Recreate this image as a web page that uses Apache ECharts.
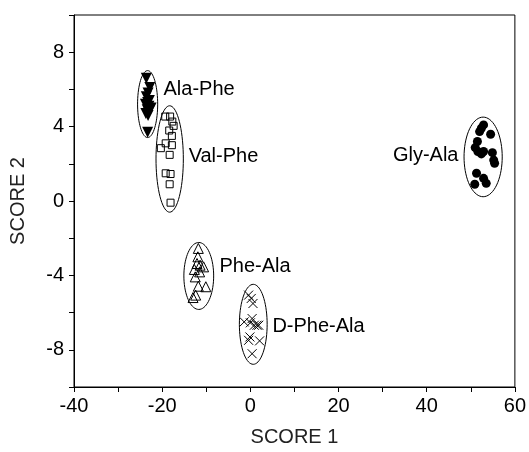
<!DOCTYPE html>
<html>
<head>
<meta charset="utf-8">
<script src="https://cdn.jsdelivr.net/npm/echarts@6/dist/echarts.min.js"></script>
<style>
  html, body { margin: 0; padding: 0; background: #fff; }
  #chart { width: 529px; height: 452px; }
</style>
</head>
<body>
<div id="chart"></div>
<script>
// 各组的得分点 (SCORE 1, SCORE 2)
var alaPhe = [[-23.6, 6.6], [-22.8, 6.1], [-23.2, 5.8], [-23.6, 5.6], [-22.9, 5.4], [-23.3, 5.3],
    [-23.8, 5.2], [-23.0, 5.1], [-22.5, 5.0], [-23.4, 4.9], [-22.8, 4.9], [-23.1, 4.8],
    [-23.7, 4.7], [-23.2, 4.6], [-23.3, 3.7]];
var valPhe = [[-19.3, 4.54], [-18.2, 4.54], [-17.7, 4.27], [-17.4, 4.04], [-18.4, 3.79], [-17.8, 3.5],
    [-19.2, 3.1], [-20.3, 2.84], [-17.8, 3.0], [-18.3, 2.48], [-19.2, 1.49], [-18.1, 1.45],
    [-18.3, 0.9], [-18.1, -0.09]];
var glyAla = [[52.4, 3.91], [52.9, 4.09], [52.0, 3.73], [54.5, 3.59], [51.5, 3.2], [51.0, 2.87],
    [51.6, 2.66], [52.4, 2.53], [52.9, 2.66], [54.9, 2.6], [55.4, 2.03], [55.2, 2.2],
    [51.3, 1.49], [52.9, 1.22], [53.5, 0.95], [50.9, 0.9]];
var pheAla = [[-11.8, -2.55], [-11.9, -3.0], [-12.1, -3.36], [-11.4, -3.45], [-10.6, -3.54], [-12.7, -3.68],
    [-11.5, -3.81], [-12.5, -4.08], [-11.8, -4.58], [-10.1, -4.61], [-12.4, -5.06], [-13.0, -5.19]];
var dPheAla = [[-0.4, -5.06], [0.2, -5.24], [0.6, -5.51], [0.4, -6.32], [-1.4, -6.5], [0.0, -6.55],
    [0.9, -6.68], [1.5, -6.68], [1.9, -6.68], [-0.1, -7.31], [-0.4, -7.49], [2.1, -7.52], [0.4, -8.21]];

// 椭圆: 中心x, 中心y, 半轴x, 半轴y
var ellipses = [
    [-23.3, 5.21, 2.28, 1.8],
    [-18.3, 2.26, 3.1, 2.86],
    [52.8, 2.37, 4.33, 2.14],
    [-11.7, -4.03, 3.38, 1.8],
    [0.66, -6.63, 3.15, 2.15]
];

// 标签
var labelNames = ['Ala-Phe', 'Val-Phe', 'Gly-Ala', 'Phe-Ala', 'D-Phe-Ala'];
var labelX = [-19.7, -14.0, 47.2, -7.0, 5.0];
var labelY = [5.98, 2.39, 2.45, -3.54, -6.72];
var labelSide = ['right', 'right', 'left', 'right', 'right'];

var xTicks = [-40, -20, 0, 20, 40, 60];
var yTicks = [-8, -4, 0, 4, 8];

window.onload = function () {
    var chart = echarts.init(document.getElementById('chart'));

    var FONT = 'Liberation Sans, Arial, sans-serif';
    var TXT = '#000';

    var labelData = labelNames.map(function (n, i) {
        return {
            value: [labelX[i], labelY[i]],
            name: n,
            label: { position: labelSide[i] }
        };
    });

    function scatter(name, data, symbol, size, filled, rotate) {
        return {
            name: name,
            type: 'scatter',
            data: data,
            symbol: symbol,
            symbolSize: size,
            symbolRotate: rotate || 0,
            itemStyle: filled
                ? { color: '#000', opacity: 1 }
                : { color: 'rgba(255,255,255,0)', borderColor: '#000', borderWidth: 1, opacity: 1 },
            z: 3
        };
    }

    var option = {
        animation: false,
        grid: {
            left: 72, right: 13, top: 15, bottom: 65,
            show: true, borderColor: '#000', borderWidth: 1
        },
        xAxis: {
            type: 'value',
            min: -40, max: 60, interval: 10,
            name: 'SCORE 1',
            nameLocation: 'middle',
            nameGap: 40,
            nameTextStyle: { fontFamily: FONT, fontSize: 20, color: '#222' },
            axisLine: { onZero: false, lineStyle: { color: '#000', width: 1 } },
            axisTick: { length: 5, lineStyle: { color: '#000' } },
            axisLabel: {
                fontFamily: FONT, fontSize: 20, color: TXT, margin: 9,
                formatter: function (v) { return xTicks.indexOf(v) >= 0 ? String(v) : ''; }
            },
            splitLine: { show: false }
        },
        yAxis: {
            type: 'value',
            min: -10, max: 10, interval: 2,
            name: 'SCORE 2',
            nameLocation: 'middle',
            nameGap: 46,
            nameTextStyle: { fontFamily: FONT, fontSize: 20, color: '#222' },
            axisLine: { onZero: false, lineStyle: { color: '#000', width: 1 } },
            axisTick: { length: 5, lineStyle: { color: '#000' } },
            axisLabel: {
                fontFamily: FONT, fontSize: 20, color: TXT, margin: 10,
                formatter: function (v) { return yTicks.indexOf(v) >= 0 ? String(v) : ''; }
            },
            splitLine: { show: false }
        },
        series: [
            {
                type: 'custom',
                data: ellipses,
                silent: true,
                z: 2,
                renderItem: function (params, api) {
                    var cx = api.value(0), cy = api.value(1), rx = api.value(2), ry = api.value(3);
                    var pts = [];
                    for (var k = 0; k < 72; k++) {
                        var a = k / 72 * Math.PI * 2;
                        pts.push(api.coord([cx + rx * Math.cos(a), cy + ry * Math.sin(a)]));
                    }
                    return {
                        type: 'polygon',
                        shape: { points: pts },
                        style: { fill: 'none', stroke: '#000', lineWidth: 1 }
                    };
                }
            },
            scatter('Ala-Phe', alaPhe, 'triangle', 11, true, 180),
            scatter('Val-Phe', valPhe, 'rect', 7, false),
            scatter('Gly-Ala', glyAla, 'circle', 9, true),
            scatter('Phe-Ala', pheAla, 'triangle', 10, false),
            scatter('D-Phe-Ala', dPheAla, 'path://M0,0L10,10M10,0L0,10', 9, false),
            {
                type: 'scatter',
                data: labelData,
                symbolSize: 0,
                silent: true,
                itemStyle: { opacity: 1 },
                label: {
                    show: true,
                    distance: 0,
                    formatter: '{b}',
                    fontFamily: FONT,
                    fontSize: 20,
                    color: TXT
                },
                z: 4
            }
        ]
    };

    chart.setOption(option);
};
</script>
</body>
</html>
